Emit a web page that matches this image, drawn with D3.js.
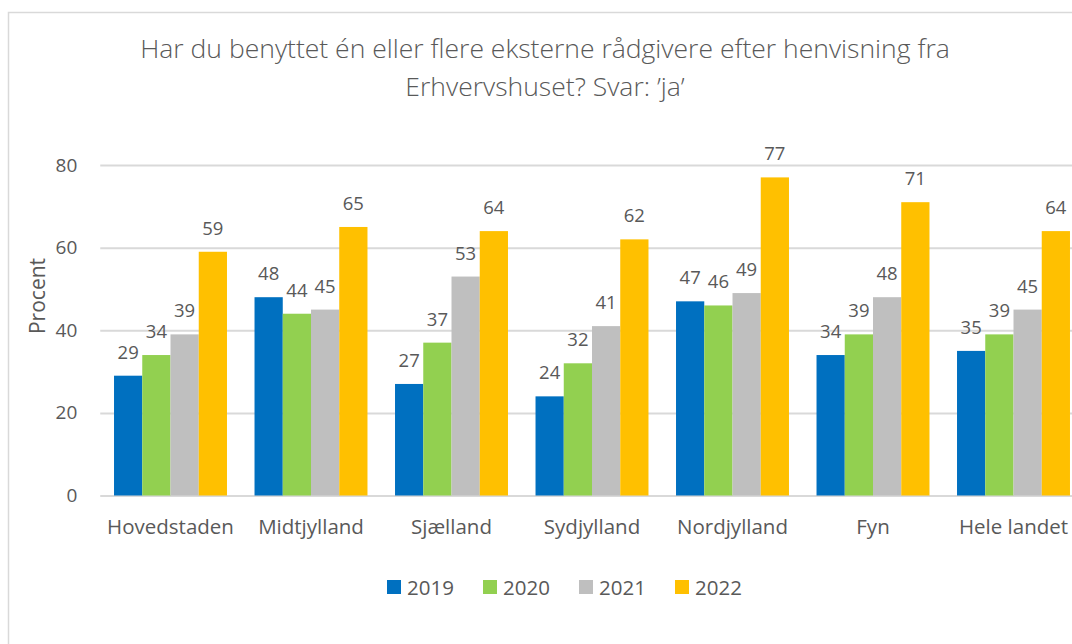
<!DOCTYPE html>
<html>
<head>
<meta charset="utf-8">
<script src="https://cdn.jsdelivr.net/npm/d3@7"></script>
<style>
  body { margin: 0; background: #fff; }
  svg { display: block; font-family: "Open Sans", sans-serif; }
</style>
</head>
<body>
<svg id="chart" width="1072" height="644"></svg>
<script>
// 数据
const regions = ["Hovedstaden", "Midtjylland", "Sjælland", "Sydjylland", "Nordjylland", "Fyn", "Hele landet"];
const years = ["2019", "2020", "2021", "2022"];
const v2019 = [29, 48, 27, 24, 47, 34, 35];
const v2020 = [34, 44, 37, 32, 46, 39, 39];
const v2021 = [39, 45, 53, 41, 49, 48, 45];
const v2022 = [59, 65, 64, 62, 77, 71, 64];
const yTicks = [0, 20, 40, 60, 80];
const titleLines = ["Har du benyttet én eller flere eksterne rådgivere efter henvisning fra", "Erhvervshuset? Svar: ’ja’"];

const seriesValues = [v2019, v2020, v2021, v2022];
const colors = ["#0070C0", "#92D050", "#BFBFBF", "#FFC000"];
const textColor = "#595959";
const font = "'Open Sans', sans-serif";

const svg = d3.select("#chart");

// 外框
svg.append("rect")
  .attr("x", 8.5).attr("y", 12.5)
  .attr("width", 1100).attr("height", 700)
  .attr("fill", "none")
  .attr("stroke", "#D9D9D9")
  .attr("stroke-width", 1.5);

// 标题 (第一行宽度约 810px)
const title = svg.append("g")
  .selectAll("text")
  .data(titleLines)
  .join("text")
  .attr("x", 545)
  .attr("y", (d, i) => 58 + i * 38)
  .attr("text-anchor", "middle")
  .attr("fill", textColor)
  .attr("font-size", 20)
  .attr("font-weight", 300)
  .text(d => d);
const w0 = title.node().getComputedTextLength();
title.attr("font-size", 20 * 810 / w0);

// 比例尺
const plotLeft = 100.25, plotRight = 1083.75;
const x0 = d3.scaleBand()
  .domain(regions)
  .range([plotLeft, plotRight])
  .paddingInner(0.196)
  .paddingOuter(0.098);
const x1 = d3.scaleBand()
  .domain(years)
  .range([0, x0.bandwidth()]);
const y = d3.scaleLinear()
  .domain([0, 80])
  .range([495.5, 165]);

// 网格线和 y 轴
const yAxis = svg.append("g")
  .attr("transform", `translate(${plotLeft},0)`)
  .call(d3.axisLeft(y)
    .tickValues(yTicks)
    .tickSize(-(plotRight - plotLeft))
    .tickPadding(23));
yAxis.select(".domain").remove();
yAxis.selectAll(".tick line")
  .attr("stroke", "#D9D9D9")
  .attr("stroke-width", 2);
yAxis.selectAll(".tick text")
  .attr("fill", textColor)
  .attr("font-size", 19)
  .attr("font-family", font);

// 柱子
const groups = svg.append("g")
  .selectAll("g")
  .data(regions)
  .join("g")
  .attr("transform", d => `translate(${x0(d)},0)`);

groups.selectAll("rect")
  .data((d, i) => years.map((yr, j) => ({ yr, v: seriesValues[j][i], c: colors[j] })))
  .join("rect")
  .attr("x", d => x1(d.yr))
  .attr("y", d => y(d.v))
  .attr("width", x1.bandwidth())
  .attr("height", d => y(0) - y(d.v))
  .attr("fill", d => d.c);

// 数据标签
groups.selectAll("text")
  .data((d, i) => years.map((yr, j) => ({ yr, v: seriesValues[j][i] })))
  .join("text")
  .attr("x", d => x1(d.yr) + x1.bandwidth() / 2)
  .attr("y", d => y(d.v) - 17)
  .attr("text-anchor", "middle")
  .attr("fill", textColor)
  .attr("font-size", 18.5)
  .text(d => d.v);

// x 轴
const xAxis = svg.append("g")
  .attr("transform", `translate(0,${y(0)})`)
  .call(d3.axisBottom(x0).tickSize(0).tickPadding(24));
xAxis.select(".domain").remove();
xAxis.selectAll(".tick text")
  .attr("fill", textColor)
  .attr("font-size", 20.5)
  .attr("font-family", font);

// y 轴标题
svg.append("text")
  .attr("transform", "translate(45,296) rotate(-90)")
  .attr("text-anchor", "middle")
  .attr("fill", textColor)
  .attr("font-size", 21)
  .text("Procent");

// 图例
const legend = svg.append("g")
  .selectAll("g")
  .data(years)
  .join("g")
  .attr("transform", (d, i) => `translate(${387 + i * 96},580)`);
legend.append("rect")
  .attr("width", 14).attr("height", 14)
  .attr("fill", (d, i) => colors[i]);
legend.append("text")
  .attr("x", 20).attr("y", 14.5)
  .attr("fill", textColor)
  .attr("font-size", 20.5)
  .text(d => d);
</script>
</body>
</html>
